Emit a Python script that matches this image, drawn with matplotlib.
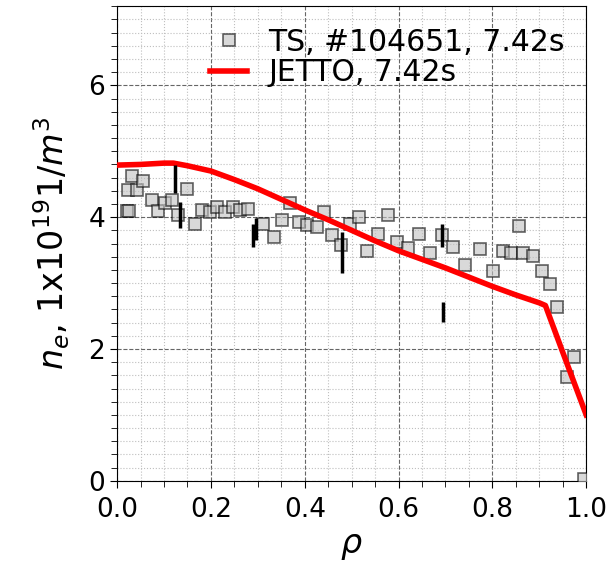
import numpy as np
import matplotlib
matplotlib.use("Agg")
import matplotlib.pyplot as plt
from matplotlib.ticker import MultipleLocator

# Thomson scattering points
ts_rho = [0.021, 0.025, 0.031, 0.024, 0.042, 0.056, 0.074, 0.088, 0.102, 0.117,
          0.130, 0.149, 0.166, 0.180, 0.198, 0.212, 0.230, 0.247, 0.262, 0.280,
          0.312, 0.335, 0.351, 0.369, 0.387, 0.404, 0.426, 0.442, 0.459, 0.478,
          0.497, 0.516, 0.532, 0.557, 0.578, 0.596, 0.621, 0.643, 0.666, 0.692,
          0.717, 0.742, 0.773, 0.802, 0.822, 0.839, 0.856, 0.866, 0.886, 0.905,
          0.922, 0.938, 0.959, 0.974, 0.995]
ts_ne = [4.09, 4.10, 4.62, 4.41, 4.41, 4.55, 4.26, 4.10, 4.22, 4.26,
         4.03, 4.43, 3.90, 4.11, 4.08, 4.16, 4.08, 4.16, 4.11, 4.12,
         3.90, 3.70, 3.95, 4.21, 3.93, 3.88, 3.85, 4.08, 3.73, 3.58,
         3.90, 4.00, 3.49, 3.75, 4.03, 3.63, 3.53, 3.75, 3.46, 3.73,
         3.55, 3.27, 3.51, 3.19, 3.49, 3.45, 3.86, 3.45, 3.41, 3.19,
         2.98, 2.63, 1.57, 1.88, 0.03]

# JETTO profile
jetto_rho = [0.0, 0.05, 0.1, 0.12, 0.15, 0.2, 0.25, 0.3, 0.35, 0.4, 0.45, 0.5,
             0.55, 0.6, 0.65, 0.7, 0.75, 0.8, 0.85, 0.9, 0.913, 0.95, 1.0]
jetto_ne = [4.79, 4.80, 4.82, 4.82, 4.78, 4.70, 4.57, 4.43, 4.27, 4.11, 3.96, 3.80,
            3.64, 3.49, 3.36, 3.23, 3.09, 2.95, 2.82, 2.70, 2.66, 1.95, 1.0]

# vertical black bars
bar_rho = [0.124, 0.133, 0.290, 0.297, 0.479, 0.692, 0.694]
bar_lo = [4.36, 3.83, 3.55, 3.65, 3.15, 3.55, 2.41]
bar_hi = [4.79, 4.23, 3.90, 3.98, 3.78, 3.90, 2.72]

fig = plt.figure(figsize=(6.1, 5.69), dpi=100)
ax = fig.add_axes([0.192, 0.155, 0.769, 0.834])

ax.plot(ts_rho, ts_ne, 's', ms=9, mfc='silver', mec='k', mew=1.2, alpha=0.6,
        label='TS, #104651, 7.42s', zorder=3)
ax.plot(jetto_rho, jetto_ne, '-', color='red', lw=4, label='JETTO, 7.42s', zorder=4)
ax.vlines(bar_rho, bar_lo, bar_hi, color='k', lw=2.5, zorder=5)

ax.set_xlim(0, 1.0)
ax.set_ylim(0, 7.2)
ax.xaxis.set_major_locator(MultipleLocator(0.2))
ax.xaxis.set_minor_locator(MultipleLocator(0.05))
ax.yaxis.set_major_locator(MultipleLocator(2))
ax.yaxis.set_minor_locator(MultipleLocator(0.2))
ax.grid(which='major', ls='--', color='0.4', lw=0.8)
ax.grid(which='minor', ls=':', color='0.75', lw=0.8)
ax.tick_params(which='both', direction='out', labelsize=19)
ax.tick_params(which='major', length=5)
ax.tick_params(which='minor', length=4)
ax.tick_params(axis='x', which='both', pad=7)

ax.set_xlabel(r'$\rho$', fontsize=24, labelpad=4)
ax.set_ylabel(r'$n_e$, 1x10$^{19}$1/$m^3$', fontsize=24, labelpad=12)

ax.legend(loc='upper right', fontsize=21.5, frameon=False, numpoints=1,
          handlelength=1.25, borderpad=0.2, labelspacing=0.05, handletextpad=0.7,
          borderaxespad=0.52)

fig.savefig('out.png', dpi=100)
